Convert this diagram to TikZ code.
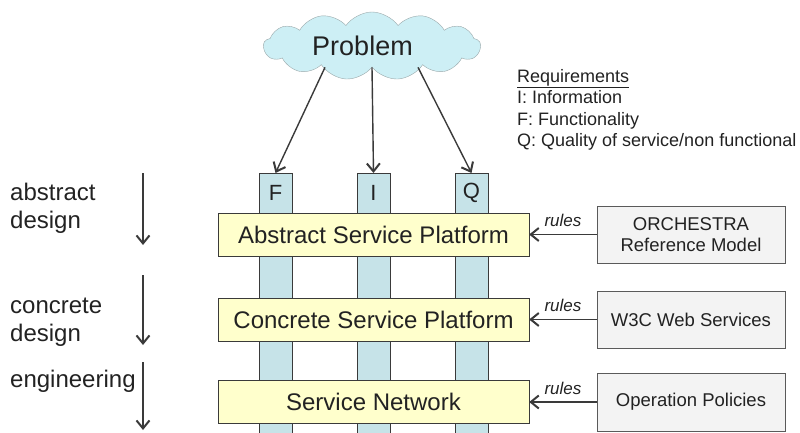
\documentclass[tikz,border=0pt]{standalone}
\usepackage{fontspec}
\setmainfont{Liberation Sans}
\usetikzlibrary{shapes.symbols,arrows.meta}

\definecolor{linegray}{HTML}{3A3A3A}
\definecolor{boxedge}{HTML}{5A5A5A}
\definecolor{pillarblue}{HTML}{C6E3E8}
\definecolor{platyellow}{HTML}{FFFFCC}
\definecolor{boxgray}{HTML}{F3F3F3}
\definecolor{cloudcyan}{HTML}{CDEFF5}
\definecolor{cloudedge}{HTML}{9AA8AA}
\definecolor{textgray}{HTML}{222222}

\begin{document}
\begin{tikzpicture}[
  x=1pt, y=-1pt,
  text=textgray,
  platform/.style={rectangle, draw=linegray, fill=platyellow, minimum width=311pt, minimum height=43pt, font=\fontsize{24}{28}\selectfont},
  pillar/.style={rectangle, draw=linegray, fill=pillarblue, minimum width=33pt, minimum height=270pt, inner sep=0pt},
  source/.style={rectangle, draw=boxedge, fill=boxgray, minimum width=188pt, minimum height=57pt, align=center, font=\fontsize{18.5}{21}\selectfont},
  stage/.style={align=left, inner sep=0pt, font=\fontsize{24}{28}\selectfont},
  flow/.style={draw=linegray, line width=1.4pt, -{Straight Barb[length=8pt,width=13pt,line width=2pt]}},
  node distance=85pt
]
\useasboundingbox (0,0) rectangle (800,433);
\clip (0,0) rectangle (800,433);

\node[pillar, anchor=north] (F) at (275.5,173) {};
\node[pillar, right of=F, node distance=98pt] (I) {};
\node[pillar, right of=I, node distance=98pt] (Q) {};
\node[font=\fontsize{22}{26}\selectfont] (Flbl) at ([yshift=-20pt]F.north) {F};
\node[font=\fontsize{22}{26}\selectfont] (Ilbl) at ([yshift=-20pt]I.north) {I};
\node[font=\fontsize{22}{26}\selectfont] (Qlbl) at ([yshift=-20pt]Q.north) {Q};

\node[platform] (asp) at (373.5,234.5) {Abstract Service Platform};
\node[platform, below of=asp] (csp) {Concrete Service Platform};
\node[platform, below of=csp, node distance=82.5pt] (sn) {Service Network};

\node[source, right of=asp, node distance=317.5pt] (orch) {ORCHESTRA\\Reference Model};
\node[source, right of=csp, node distance=317.5pt] (w3c) {W3C Web Services};
\node[source, right of=sn, node distance=317.5pt, minimum height=58pt] (ops) {Operation Policies};

\node[cloud, cloud puffs=13, cloud puff arc=110, cloud ignores aspect, draw=cloudedge, fill=cloudcyan,
  minimum width=217pt, minimum height=68pt, inner sep=0pt, font=\fontsize{27}{30}\selectfont] (problem) at (372,46) {Problem\kern19pt};

\node[align=left, anchor=north west, inner sep=0pt, font=\fontsize{18}{21.5}\selectfont] (req) at (517,69)
  {\underline{Requirements}\\I: Information\\F: Functionality\\Q: Quality of service/non functional};

\node[stage, anchor=north west] (absd) at (10,182.5) {abstract\\design};
\node[stage, anchor=north west] (cond) at (10,297.5) {concrete\\design};
\node[stage, anchor=base west] (eng) at (10,387) {engineering};

\coordinate (s1) at (143,173);
\coordinate (e1) at (143,245);
\coordinate (s2) at (143,275);
\coordinate (e2) at (143,345);
\coordinate (s3) at (143,362);
\coordinate (e3) at (143,430);
\draw[flow] (s1) -- (e1);
\draw[flow] (s2) -- (e2);
\draw[flow] (s3) -- (e3);

\draw[flow] ([xshift=-47pt]problem.south) -- (F.north);
\draw[flow] (problem.south) -- (I.north);
\draw[flow] ([xshift=46pt]problem.south) -- (Q.north);

\draw[flow] (orch) -- node[above=7pt, inner sep=0pt, font=\fontsize{17}{20}\selectfont\itshape] {rules} (asp);
\draw[flow] (w3c) -- node[above=7pt, inner sep=0pt, font=\fontsize{17}{20}\selectfont\itshape] {rules} (csp);
\draw[flow] (ops) -- node[above=7pt, inner sep=0pt, font=\fontsize{17}{20}\selectfont\itshape] {rules} (sn);
\end{tikzpicture}
\end{document}
